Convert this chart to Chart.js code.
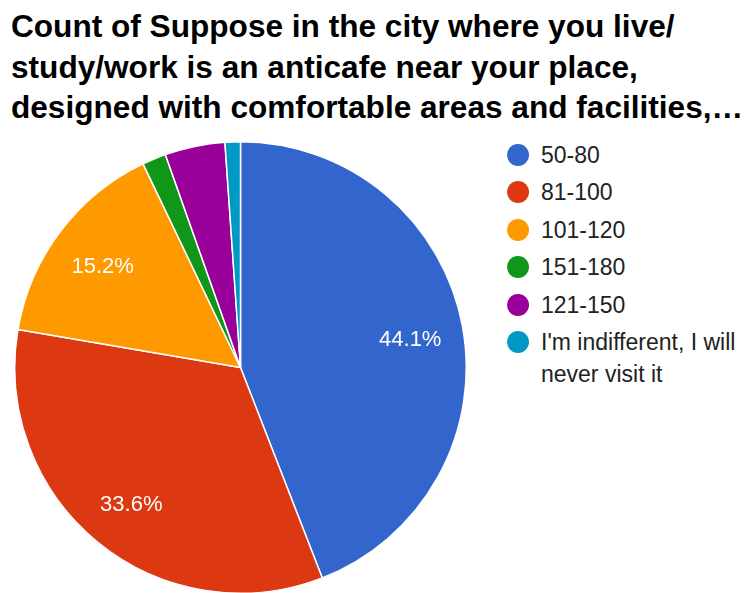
<!DOCTYPE html>
<html>
<head>
<meta charset="utf-8">
<script src="https://cdn.jsdelivr.net/npm/chart.js@4.4.1/dist/chart.umd.min.js"></script>
<style>
  html, body { margin: 0; padding: 0; background: #fff; overflow: hidden; }
  body { width: 753px; height: 593px; position: relative; font-family: "Liberation Sans", Arial, sans-serif; }
  #title { position: absolute; left: 11px; top: 6px; font-weight: bold; font-size: 31.6px; line-height: 40.5px; color: #000; white-space: nowrap; }
  #pieBox { position: absolute; left: 14px; top: 141px; width: 453px; height: 453px; }
  #legend { position: absolute; left: 507px; top: 138.5px; list-style: none; margin: 0; padding: 0; }
  #legend li { position: relative; padding-left: 34px; font-size: 23px; line-height: 32px; color: #222; margin-bottom: 5.5px; width: 210px; }
  #legend li .dot { position: absolute; left: 0; top: 5px; width: 22px; height: 22px; border-radius: 50%; }
</style>
</head>
<body>
<div id="title"></div>
<div id="pieBox"><canvas id="pie"></canvas></div>
<ul id="legend"></ul>
<script>
const titleLines = [
  "Count of Suppose in the city where you live/",
  "study/work is an anticafe near your place,",
  "designed with comfortable areas and facilities,\u2026"
];
const categories = ["50-80", "81-100", "101-120", "151-180", "121-150", "I'm indifferent, I will never visit it"];
const shares = [44.1, 33.6, 15.2, 1.7, 4.3, 1.1];
const sliceColors = ["#3366cc", "#dc3912", "#ff9900", "#109618", "#990099", "#0099c6"];

document.getElementById("title").innerHTML = titleLines.join("<br>");

const legend = document.getElementById("legend");
categories.forEach((name, i) => {
  const li = document.createElement("li");
  const dot = document.createElement("span");
  dot.className = "dot";
  dot.style.background = sliceColors[i];
  li.appendChild(dot);
  li.appendChild(document.createTextNode(name));
  legend.appendChild(li);
});

// Percentage labels placed inside the larger slices
const sliceLabels = {
  id: "sliceLabels",
  afterDatasetsDraw(chart) {
    const { ctx } = chart;
    const meta = chart.getDatasetMeta(0);
    const data = chart.data.datasets[0].data;
    const total = data.reduce((a, b) => a + b, 0);
    ctx.save();
    ctx.fillStyle = "#ffffff";
    ctx.font = "22px 'Liberation Sans', Arial, sans-serif";
    ctx.textAlign = "center";
    ctx.textBaseline = "middle";
    meta.data.forEach((arc, i) => {
      const pct = data[i] / total * 100;
      if (pct < 10) return;
      const mid = (arc.startAngle + arc.endAngle) / 2;
      const r = arc.outerRadius * 0.765;
      ctx.fillText(pct.toFixed(1) + "%", arc.x + Math.cos(mid) * r, arc.y + Math.sin(mid) * r + 4);
    });
    ctx.restore();
  }
};

new Chart(document.getElementById("pie"), {
  type: "pie",
  data: {
    labels: categories,
    datasets: [{
      data: shares,
      backgroundColor: sliceColors,
      borderColor: "#ffffff",
      borderWidth: 1.5
    }]
  },
  options: {
    responsive: true,
    maintainAspectRatio: false,
    animation: false,
    layout: { padding: 0 },
    plugins: { legend: { display: false }, tooltip: { enabled: false } }
  },
  plugins: [sliceLabels]
});
</script>
</body>
</html>
